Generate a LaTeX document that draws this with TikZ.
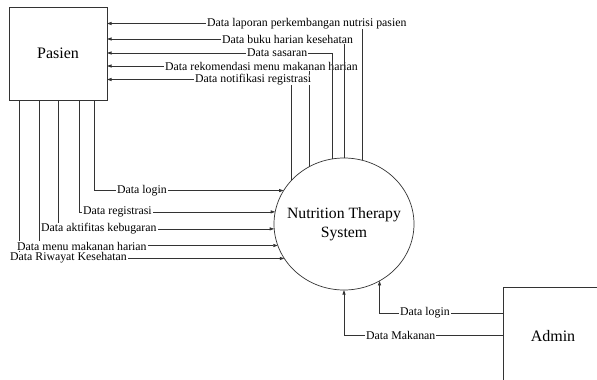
\documentclass[tikz,border=0pt]{standalone}
\usepackage{fontspec}
\setmainfont{Liberation Serif}
\usetikzlibrary{arrows.meta,shapes.geometric,calc}
\begin{document}
\begin{tikzpicture}[x=1pt,y=-1pt,
  line/.style={draw=black!80,line width=0.7pt},
  flow/.style={line,-{Triangle[length=4.5pt,width=3pt]}},
  entity/.style={line,rectangle,inner sep=0pt,outer sep=0pt,font=\fontsize{16}{19}\selectfont},
  lbl/.style={fill=white,anchor=west,inner xsep=1pt,inner ysep=0.5pt,font=\fontsize{11.8}{14}\selectfont}]
\useasboundingbox[fill=white] (0,0) rectangle (597,380);

% external entities and the process
\node[entity,minimum width=98pt,minimum height=93pt] (pasien) at (58,53.5) {Pasien};
\node[entity,minimum width=100pt,minimum height=98pt] (admin) at (553,336) {Admin};
\node[line,ellipse,minimum width=140pt,minimum height=132pt,inner sep=0pt,outer sep=0pt,
  label={[font=\fontsize{15.7}{19}\selectfont,align=center]center:Nutrition Therapy\\System}] (sys) at (344,224) {};

% connection points on the entity boxes
\coordinate (pb1) at ($(pasien.south west)+(85,0)$);
\coordinate (pb2) at ($(pasien.south west)+(70,0)$);
\coordinate (pb3) at ($(pasien.south west)+(49,0)$);
\coordinate (pb4) at ($(pasien.south west)+(30,0)$);
\coordinate (pb5) at ($(pasien.south west)+(10,0)$);
\coordinate (pr1) at ($(pasien.north east)+(0,16.5)$);
\coordinate (pr2) at ($(pasien.north east)+(0,32)$);
\coordinate (pr3) at ($(pasien.north east)+(0,46)$);
\coordinate (pr4) at ($(pasien.north east)+(0,59)$);
\coordinate (pr5) at ($(pasien.north east)+(0,72.5)$);
\coordinate (aw1) at ($(admin.north west)+(0,26)$);
\coordinate (aw2) at ($(admin.north west)+(0,48)$);

% Pasien -> system
\draw[flow] (pb1) |- (sys.151);
\draw[flow] (pb2) |- (sys.170);
\draw[flow] (pb3) |- (sys.184);
\draw[flow] (pb4) |- (sys.198);
\draw[flow] (pb5) |- (sys.210);
\node[lbl] (l1) at (116,191) {Data login};
\node[lbl] (l2) at (82,212) {Data registrasi};
\node[lbl] (l3) at (40,229) {Data aktifitas kebugaran};
\node[lbl] (l5) at (9,258) {Data Riwayat Kesehatan};
\node[lbl] (l4) at (16,246) {Data menu makanan harian};

% system -> Pasien
\draw[flow] (sys.121) |- (pr4);
\node[lbl] (r4) at (164,66) {Data rekomendasi menu makanan harian};
\draw[flow] (sys.140) |- (pr5);
\node[lbl] (r5) at (194,79.5) {Data notifikasi registrasi};
\draw[flow] (sys.100) |- (pr3);
\node[lbl] (r3) at (246,53) {Data sasaran};
\draw[flow] (sys.90) |- (pr2);
\node[lbl] (r2) at (221,39) {Data buku harian kesehatan};
\draw[flow] (sys.74) |- (pr1);
\node[lbl] (r1) at (206,23.5) {Data laporan perkembangan nutrisi pasien};

% Admin -> system
\draw[flow] (aw1) -| (sys.302);
\draw[flow] (aw2) -| (sys.270);
\node[lbl] (a1) at (399,313) {Data login};
\node[lbl] (a2) at (365,335) {Data Makanan};
\end{tikzpicture}
\end{document}
